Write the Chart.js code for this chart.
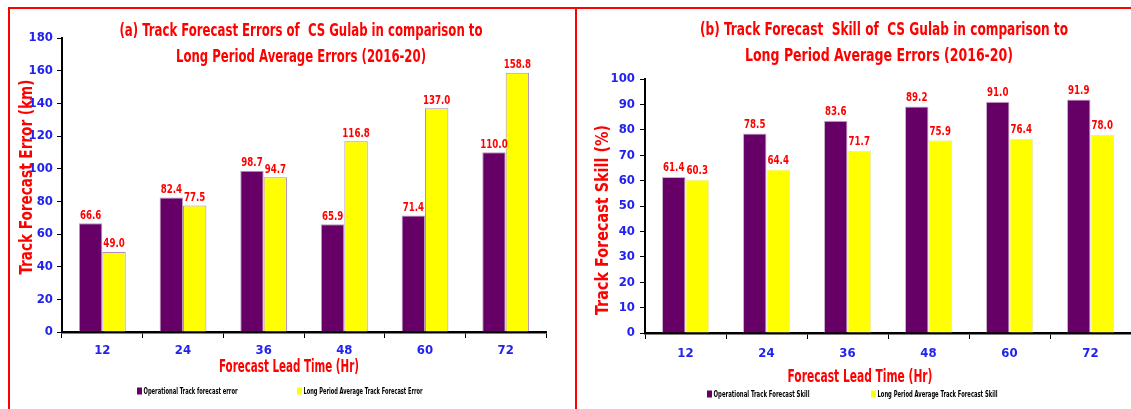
<!DOCTYPE html>
<html>
<head>
<meta charset="utf-8">
<script src="https://cdn.jsdelivr.net/npm/chart.js@4.4.1/dist/chart.umd.min.js"></script>
<style>
  html, body { margin:0; padding:0; background:#fff; width:1131px; height:409px; overflow:hidden; }
  .line { position:absolute; background:#ff0000; }
  .wrap { position:absolute; top:0; }
</style>
</head>
<body>
<div class="wrap" style="left:0;width:575px;height:409px;"><canvas id="left" width="575" height="409"></canvas></div>
<div class="wrap" style="left:577px;width:554px;height:409px;"><canvas id="right" width="554" height="409"></canvas></div>
<div class="line" style="left:8px;top:7px;width:1123px;height:2px;"></div>
<div class="line" style="left:8px;top:7px;width:2px;height:402px;"></div>
<div class="line" style="left:575px;top:7px;width:2px;height:402px;"></div>
<script>
const categories = ['12', '24', '36', '48', '60', '72'];
const opErrors   = [66.6, 82.4, 98.7, 65.9, 71.4, 110.0];
const lpaErrors  = [49.0, 77.5, 94.7, 116.8, 137.0, 158.8];
const opSkill    = [61.4, 78.5, 83.6, 89.2, 91.0, 91.9];
const lpaSkill   = [60.3, 64.4, 71.7, 75.9, 76.4, 78.0];
const errorAxis  = { min: 0, max: 180, step: 20 };
const skillAxis  = { min: 0, max: 100, step: 10 };
const titleA = ['(a) Track Forecast Errors of  CS Gulab in comparison to', 'Long Period Average Errors (2016-20)'];
const titleB = ['(b) Track Forecast  Skill of  CS Gulab in comparison to', 'Long Period Average Errors (2016-20)'];
const xTitle = 'Forecast Lead Time (Hr)';
const yTitleA = 'Track Forecast Error (km)';
const yTitleB = 'Track Forecast Skill (%)';
const legendA = ['Operational Track forecast error', 'Long Period Average Track Forecast Error'];
const legendB = ['Operational Track Forecast Skill', 'Long Period Average Track Forecast Skill'];

const FONT = '"Liberation Sans Narrow", "DejaVu Sans Condensed", "Arial Narrow", sans-serif';
const PURPLE = '#660066', YELLOW = '#ffff00', RED = '#ff0000', BLUE = '#2222ee';

Chart.defaults.font.family = FONT;
Chart.defaults.animation = false;

// draw text horizontally compressed: either to a target width or by a fixed factor
function drawText(ctx, text, x, y, font, opt) {
  ctx.save();
  ctx.font = font;
  const w = ctx.measureText(text).width;
  const sx = opt.width ? opt.width / w : (opt.sx || 1);
  ctx.translate(x, y);
  if (opt.rot) ctx.rotate(opt.rot);
  ctx.scale(sx, 1);
  ctx.textAlign = opt.align || 'center';
  ctx.textBaseline = 'middle';
  ctx.fillStyle = opt.color;
  ctx.fillText(text, 0, 0);
  ctx.restore();
}

const panelPlugin = {
  id: 'panel',
  afterDatasetsDraw(chart, args, o) {
    const ctx = chart.ctx;
    // value labels above bars
    chart.data.datasets.forEach((ds, i) => {
      chart.getDatasetMeta(i).data.forEach((bar, j) => {
        drawText(ctx, ds.data[j].toFixed(1), bar.x, bar.y - o.labelGap, 'bold 13px ' + FONT, { sx: 0.74, color: RED });
      });
    });
    // chart title
    o.title.forEach((line, k) =>
      drawText(ctx, line, o.titleX[k], o.titleY[k], 'bold 17px ' + FONT, { width: o.titleW[k], color: RED }));
    // axis titles
    drawText(ctx, o.xTitle, o.xTitlePos[0], o.xTitlePos[1], 'bold 18px ' + FONT, { width: o.xTitlePos[2], color: RED });
    drawText(ctx, o.yTitle, o.yTitlePos[0], o.yTitlePos[1], 'bold 18px ' + FONT, { width: o.yTitlePos[2], color: RED, rot: -Math.PI / 2 });
    // legend
    chart.data.datasets.forEach((ds, i) => {
      const x = o.legendX[i], y = o.legendY;
      ctx.fillStyle = ds.backgroundColor;
      ctx.fillRect(x, y - 3.5, 5, 7);
      drawText(ctx, ds.label, x + 6.5, y + 0.5, 'bold 8px ' + FONT, { width: o.legendW[i], color: '#000', align: 'left' });
    });
  }
};

function makeChart(id, cfg) {
  return new Chart(document.getElementById(id), {
    type: 'bar',
    data: {
      labels: categories,
      datasets: [
        { label: cfg.labels[0], data: cfg.a, backgroundColor: PURPLE, borderColor: cfg.borderA, borderWidth: 1,
          categoryPercentage: 0.58, barPercentage: 1.0 },
        { label: cfg.labels[1], data: cfg.b, backgroundColor: YELLOW, borderColor: cfg.borderB, borderWidth: 1,
          categoryPercentage: 0.58, barPercentage: 1.0 }
      ]
    },
    options: {
      responsive: false,
      devicePixelRatio: 1,
      layout: { padding: cfg.padding },
      plugins: {
        legend: { display: false },
        title: { display: false },
        tooltip: { enabled: false },
        panel: cfg.panel
      },
      scales: {
        x: {
          grid: { display: true, drawOnChartArea: false, drawTicks: true, tickLength: 6, color: '#000', lineWidth: 1, offset: true },
          border: { display: true, color: '#000', width: 2.5 },
          ticks: { color: BLUE, font: { size: 13, weight: 'bold' }, padding: cfg.xTickPad, maxRotation: 0 },
          title: { display: false },
          afterFit: s => { s.height = cfg.xHeight; }
        },
        y: {
          min: cfg.axis.min, max: cfg.axis.max,
          grid: { display: true, drawOnChartArea: false, drawTicks: true, tickLength: 5, color: '#000', lineWidth: 1 },
          border: { display: true, color: '#000', width: 2 },
          ticks: { stepSize: cfg.axis.step, color: BLUE, font: { size: 13, weight: 'bold' }, padding: cfg.yTickPad },
          title: { display: false },
          afterFit: s => { s.width = cfg.yWidth; }
        }
      }
    },
    plugins: [panelPlugin]
  });
}

makeChart('left', {
  a: opErrors, b: lpaErrors, axis: errorAxis, labels: legendA,
  borderA: '#b898b8', borderB: '#b08cc0',
  padding: { left: 0, top: 38, right: 29, bottom: 27 },
  xHeight: 50, xTickPad: 5,
  yWidth: 62, yTickPad: 4,
  panel: { labelGap: 8, title: titleA, titleX: [301, 301], titleY: [32, 58], titleW: [363, 250],
           xTitle: xTitle, xTitlePos: [289, 367, 140],
           yTitle: yTitleA, yTitlePos: [27, 177, 195],
           legendX: [137, 297], legendY: 391, legendW: [94, 119] }
});

makeChart('right', {
  a: opSkill, b: lpaSkill, axis: skillAxis, labels: legendB,
  borderA: '#c8b0c8', borderB: '#f0f0a0',
  padding: { left: 0, top: 79, right: 0, bottom: 20 },
  xHeight: 56, xTickPad: 7,
  yWidth: 68, yTickPad: 5,
  panel: { labelGap: 9, title: titleB, titleX: [307, 302], titleY: [31, 57], titleW: [368, 268],
           xTitle: xTitle, xTitlePos: [283, 377, 145],
           yTitle: yTitleB, yTitlePos: [26, 220, 190],
           legendX: [130, 294], legendY: 394, legendW: [96, 120] }
});
</script>
</body>
</html>
